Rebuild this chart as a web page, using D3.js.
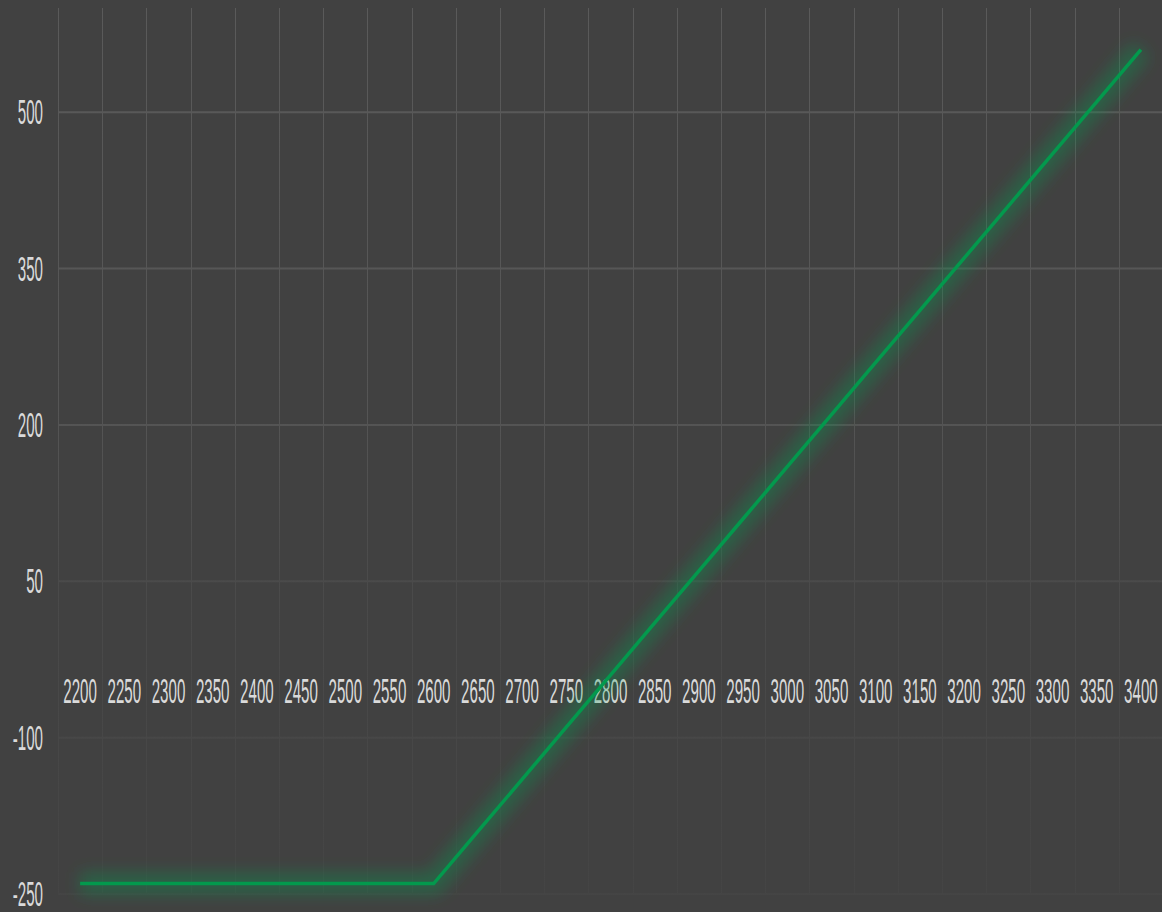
<!DOCTYPE html>
<html>
<head>
<meta charset="utf-8">
<script src="https://cdn.jsdelivr.net/npm/d3@7"></script>
<style>
  html, body { margin: 0; padding: 0; background: #414141; }
  svg { display: block; }
</style>
</head>
<body>
<div id="chart"></div>
<script>
const strikes = ["2200", "2250", "2300", "2350", "2400", "2450", "2500", "2550", "2600", "2650",
  "2700", "2750", "2800", "2850", "2900", "2950", "3000", "3050", "3100", "3150",
  "3200", "3250", "3300", "3350", "3400"];
const pnl = [-240, -240, -240, -240, -240, -240, -240, -240, -240, -190,
  -140, -90, -40, 10, 60, 110, 160, 210, 260, 310,
  360, 410, 460, 510, 560];
const yTicks = [-250, -100, 50, 200, 350, 500];

const W = 1162, H = 912;
const svg = d3.select("#chart").append("svg").attr("width", W).attr("height", H);

svg.append("rect").attr("width", W).attr("height", H).attr("fill", "#414141");

const defs = svg.append("defs");
const grad = defs.append("linearGradient")
  .attr("id", "gridFade")
  .attr("gradientUnits", "userSpaceOnUse")
  .attr("x1", 0).attr("y1", 0).attr("x2", 0).attr("y2", H);
grad.append("stop").attr("offset", "0").attr("stop-color", "#5a5a5a");
grad.append("stop").attr("offset", "0.45").attr("stop-color", "#555555");
grad.append("stop").attr("offset", "0.65").attr("stop-color", "#4a4a4a");
grad.append("stop").attr("offset", "1").attr("stop-color", "#444444");

const glow = defs.append("filter").attr("id", "glow")
  .attr("x", "-10%").attr("y", "-10%").attr("width", "120%").attr("height", "120%");
glow.append("feGaussianBlur").attr("stdDeviation", 8);

const x = d3.scaleBand().domain(strikes).range([58, 1163]).paddingInner(0).paddingOuter(0);
const y = d3.scaleLinear().domain([-250, 600]).range([894, 8]);

const grid = svg.append("g");
grid.selectAll(".vline")
  .data(strikes)
  .enter()
  .append("line")
  .attr("class", "vline")
  .attr("x1", (d) => Math.round(x(d)) + 0.5)
  .attr("x2", (d) => Math.round(x(d)) + 0.5)
  .attr("y1", y(600))
  .attr("y2", y(-250))
  .attr("stroke", "url(#gridFade)")
  .attr("stroke-width", 1);
grid.selectAll(".hline")
  .data(yTicks)
  .enter()
  .append("line")
  .attr("class", "hline")
  .attr("x1", 58)
  .attr("x2", W)
  .attr("y1", (d) => y(d))
  .attr("y2", (d) => y(d))
  .attr("stroke", "url(#gridFade)")
  .attr("stroke-width", 2);

const textScale = 0.42;
svg.append("g")
  .selectAll("text")
  .data(yTicks)
  .enter()
  .append("text")
  .attr("transform", (d) => `translate(43,${y(d) + 12}) scale(${textScale},1)`)
  .attr("text-anchor", "end")
  .attr("font-family", "Liberation Sans, Arial, sans-serif")
  .attr("font-size", 36)
  .attr("fill", "#dadada")
  .text((d) => d);

svg.append("g")
  .selectAll("text")
  .data(strikes)
  .enter()
  .append("text")
  .attr("transform", (d) => `translate(${x(d) + x.bandwidth() / 2},703) scale(${textScale},1)`)
  .attr("text-anchor", "middle")
  .attr("font-family", "Liberation Sans, Arial, sans-serif")
  .attr("font-size", 36)
  .attr("fill", "#dadada")
  .text((d) => d);

const line = d3.line()
  .x((d, i) => x(strikes[i]) + x.bandwidth() / 2)
  .y((d) => y(d));

svg.append("path")
  .datum(pnl)
  .attr("fill", "none")
  .attr("stroke", "#00a050")
  .attr("stroke-opacity", 0.35)
  .attr("stroke-width", 22)
  .attr("stroke-linejoin", "round")
  .attr("filter", "url(#glow)")
  .attr("d", line);

svg.append("path")
  .datum(pnl)
  .attr("fill", "none")
  .attr("stroke", "#03994d")
  .attr("stroke-width", 3.5)
  .attr("stroke-linejoin", "miter")
  .attr("d", line);
</script>
</body>
</html>
